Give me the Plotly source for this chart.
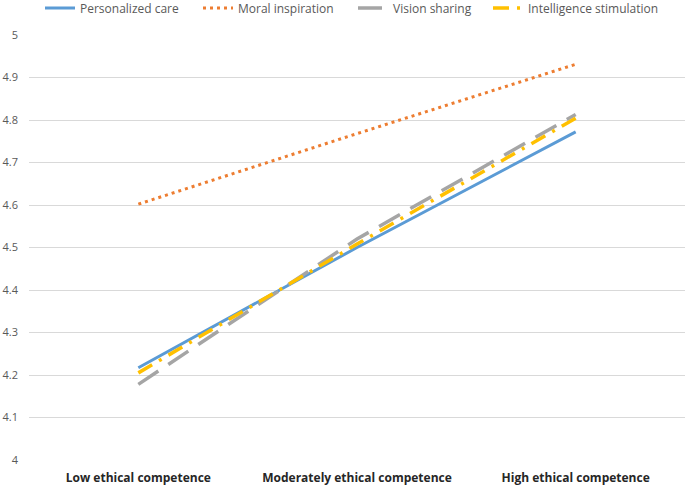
import plotly.graph_objects as go

categories = ["Low ethical competence", "Moderately ethical competence", "High ethical competence"]
personalized_care = [4.217, 4.500, 4.772]
moral_inspiration = [4.602, 4.768, 4.931]
vision_sharing = [4.178, 4.520, 4.813]
intelligence_stimulation = [4.205, 4.508, 4.804]
y_ticks = [4.0, 4.1, 4.2, 4.3, 4.4, 4.5, 4.6, 4.7, 4.8, 4.9, 5.0]
y_labels = ["4", "4.1", "4.2", "4.3", "4.4", "4.5", "4.6", "4.7", "4.8", "4.9", "5"]

W, H = 685, 485
ML, MR, MT, MB = 29, 0, 35, 25
PW = W - ML - MR
PH = H - MT - MB


def px_x(p):
    return (p - ML) / PW


leg_y = 1 + (MT - 8) / PH
leg_font = dict(size=12, color="#595959", family="Open Sans")

fig = go.Figure()
fig.add_trace(go.Scatter(x=categories, y=personalized_care, mode="lines", name="Personalized care",
                         line=dict(color="#5B9BD5", width=3), legend="legend"))
fig.add_trace(go.Scatter(x=categories, y=moral_inspiration, mode="lines", name="Moral inspiration",
                         line=dict(color="#ED7D31", width=3, dash="3px,4px"), legend="legend2"))
fig.add_trace(go.Scatter(x=categories, y=vision_sharing, mode="lines", name="Vision sharing",
                         line=dict(color="#A5A5A5", width=3.5, dash="24px,12px"), legend="legend3"))
fig.add_trace(go.Scatter(x=categories, y=intelligence_stimulation, mode="lines", name="Intelligence stimulation",
                         line=dict(color="#FFC000", width=3.5, dash="16px,8px,3px,8px"), legend="legend4"))

legs = {}
for key, p in zip(["legend", "legend2", "legend3", "legend4"], [40, 198, 353, 488]):
    legs[key] = dict(orientation="h", x=px_x(p), xanchor="left", y=leg_y, yanchor="middle",
                     font=leg_font, bgcolor="rgba(0,0,0,0)", borderwidth=0)

fig.update_layout(
    width=W, height=H,
    margin=dict(l=ML, r=MR, t=MT, b=MB, autoexpand=False),
    paper_bgcolor="white", plot_bgcolor="white",
    font=dict(family="Open Sans", size=11, color="#595959"),
    showlegend=True,
    **legs,
    xaxis=dict(type="category", range=[-0.5, 2.5], showgrid=False, showline=False, zeroline=False,
               tickfont=dict(size=12, color="#262626", family="Open Sans"), ticks="",
               tickprefix="<b>", ticksuffix="</b>", ticklabelstandoff=9),
    yaxis=dict(range=[4.0, 5.0], tickvals=y_ticks, ticktext=y_labels, showgrid=True,
               gridcolor="#D9D9D9", gridwidth=1, zeroline=False, showline=False,
               tickfont=dict(size=11, color="#595959"), ticks="", ticklabelstandoff=10),
)
fig.write_html("out.html", config={"displayModeBar": False},
               post_script="document.body.style.margin='0px';")
